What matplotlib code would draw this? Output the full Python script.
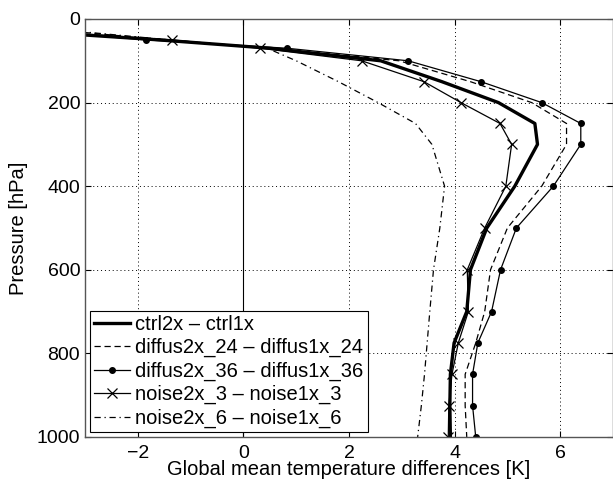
import matplotlib
matplotlib.use("Agg")
import matplotlib.pyplot as plt

# pressure levels [hPa] and temperature differences [K]
pressure = [30, 50, 70, 100, 150, 200, 250, 300, 400, 500, 600, 700, 775, 850, 925, 1000]
ctrl = [-4.0, -1.6, 0.5, 2.6, 3.76, 4.83, 5.52, 5.57, 5.14, 4.61, 4.30, 4.23, 3.99, 3.92, 3.91, 3.92]
diffus24 = [-3.2, -1.5, 0.55, 2.95, 4.30, 5.46, 6.12, 6.12, 5.65, 5.0, 4.68, 4.57, 4.40, 4.20, 4.20, 4.23]
diffus36 = [-3.8, -1.84, 0.83, 3.12, 4.50, 5.65, 6.39, 6.39, 5.87, 5.17, 4.87, 4.70, 4.44, 4.34, 4.34, 4.40]
noise3 = [-3.7, -1.35, 0.32, 2.24, 3.42, 4.12, 4.86, 5.08, 4.97, 4.57, 4.24, 4.26, 4.07, 3.95, 3.89, 3.88]
noise6 = [-3.1, -1.4, 0.45, 1.0, 1.8, 2.55, 3.26, 3.57, 3.81, 3.72, 3.60, 3.53, 3.48, 3.43, 3.37, 3.30]

labels = ["ctrl2x \u2013 ctrl1x",
          "diffus2x_24 \u2013 diffus1x_24",
          "diffus2x_36 \u2013 diffus1x_36",
          "noise2x_3 \u2013 noise1x_3",
          "noise2x_6 \u2013 noise1x_6"]

plt.rcParams["font.family"] = ["Liberation Sans", "DejaVu Sans"]

fig = plt.figure(figsize=(6.13, 4.82), dpi=100)
ax = fig.add_axes([0.1387, 0.0934, 0.8613, 0.8672])

ax.axvline(0, color="black", lw=0.8, zorder=1)

ax.plot(ctrl, pressure, color="black", lw=2.4, label=labels[0])
ax.plot(diffus24, pressure, color="black", lw=0.9, ls=(0, (5, 3)), label=labels[1])
ax.plot(diffus36, pressure, color="black", lw=0.9, marker="o", ms=4, label=labels[2])
ax.plot(noise3, pressure, color="black", lw=0.9, marker="x", ms=7, mew=0.9, label=labels[3])
ax.plot(noise6, pressure, color="black", lw=0.9, ls=(0, (5, 3, 1, 3)), label=labels[4])

ax.set_xlim(-3, 7)
ax.set_ylim(1000, 0)
ax.set_xticks([-2, 0, 2, 4, 6])
ax.set_yticks([0, 200, 400, 600, 800, 1000])
ax.set_xticklabels(["\u22122", "0", "2", "4", "6"])
ax.tick_params(direction="in", top=True, right=True, labelsize=14, length=4)
ax.tick_params(axis="x", pad=5.5)
ax.tick_params(axis="y", pad=3.5)
ax.grid(True, ls=(0, (1, 3)), color="black", lw=0.7)

for s in ax.spines.values():
    s.set_color("#555555")
    s.set_linewidth(1.0)

ax.set_xlabel("Global mean temperature differences [K]", fontsize=14.5, labelpad=-1)
ax.set_ylabel("Pressure [hPa]", fontsize=14.5, labelpad=6)

leg = ax.legend(loc="lower left", bbox_to_anchor=(0.0, 0.0), fontsize=14.5,
                fancybox=False, edgecolor="black", framealpha=1,
                handlelength=1.8, handletextpad=0.25, labelspacing=0.21,
                borderpad=0.2, borderaxespad=0.25)
leg.get_frame().set_linewidth(0.8)

fig.savefig("out.png", dpi=100)
